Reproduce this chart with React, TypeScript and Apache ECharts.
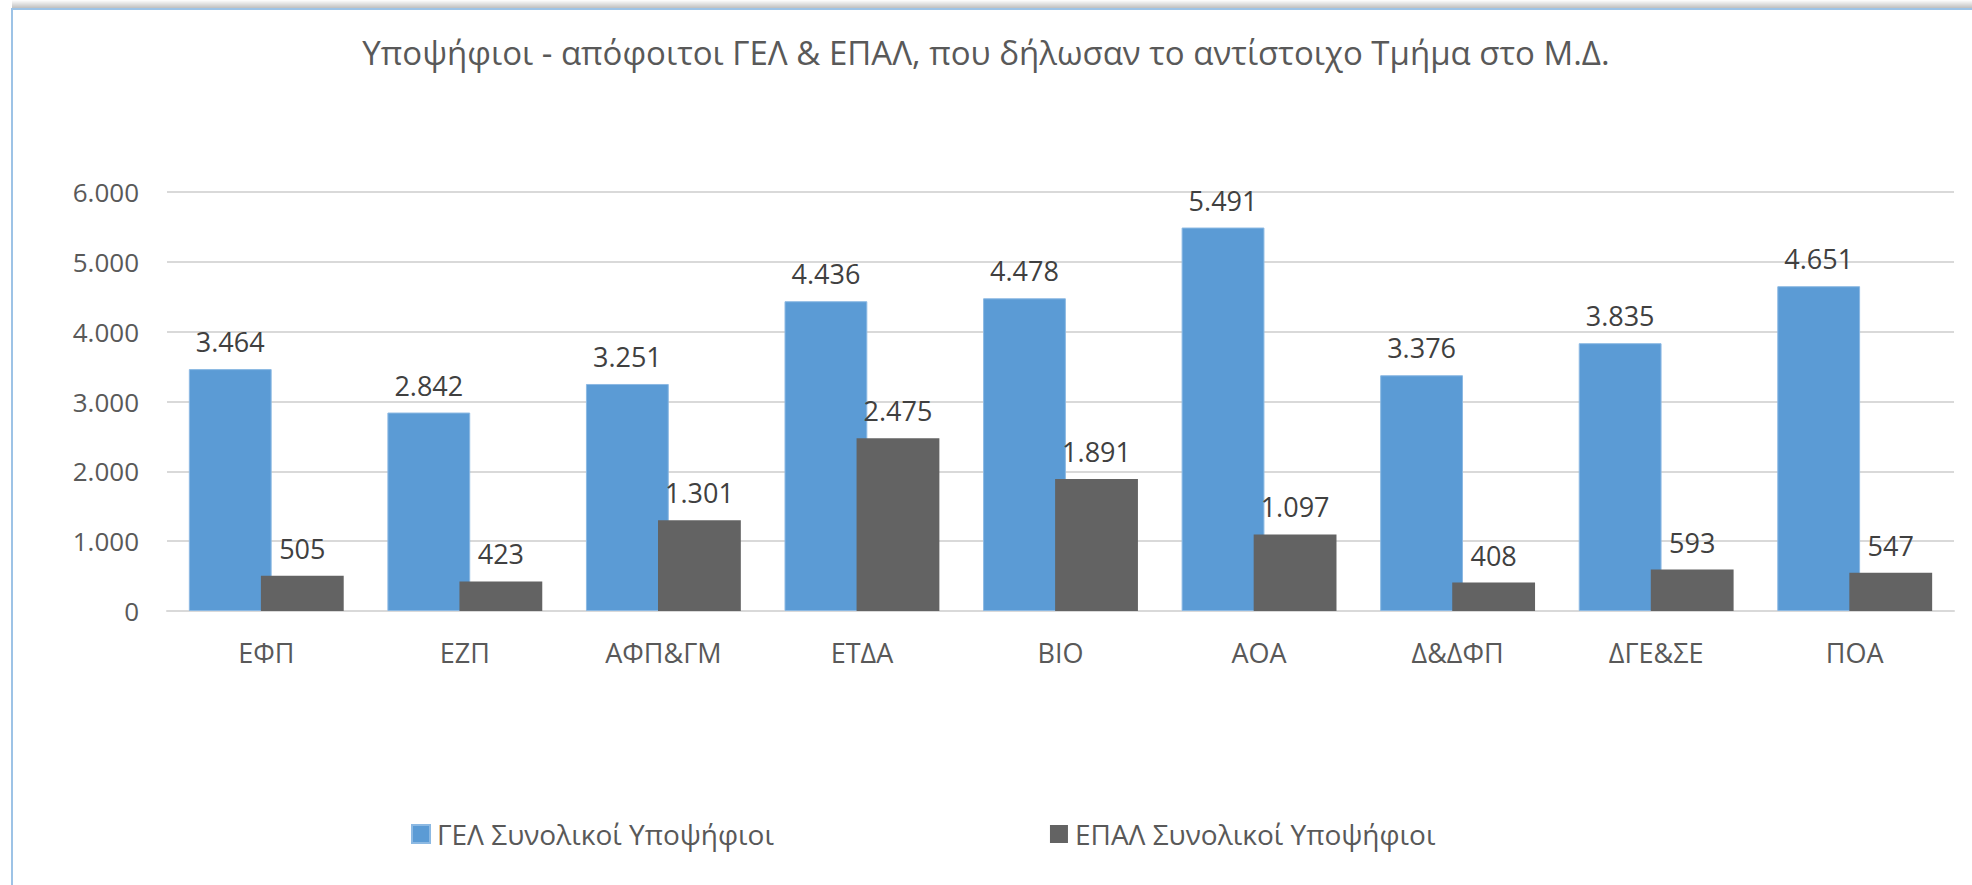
import React, { useEffect, useRef } from "react";
import * as echarts from "echarts";

const categories = ["ΕΦΠ", "ΕΖΠ", "ΑΦΠ&ΓΜ", "ΕΤΔΑ", "ΒΙΟ", "ΑΟΑ", "Δ&ΔΦΠ", "ΔΓΕ&ΣΕ", "ΠΟΑ"];
const gelValues = [3464, 2842, 3251, 4436, 4478, 5491, 3376, 3835, 4651];
const epalValues = [505, 423, 1301, 2475, 1891, 1097, 408, 593, 547];
const seriesNames = ["ΓΕΛ Συνολικοί Υποψήφιοι", "ΕΠΑΛ Συνολικοί Υποψήφιοι"];
const titleText = "Υποψήφιοι - απόφοιτοι ΓΕΛ & ΕΠΑΛ, που δήλωσαν το αντίστοιχο Τμήμα στο Μ.Δ.";

const fmt = (v: number) => String(Math.round(v)).replace(/\B(?=(\d{3})+(?!\d))/g, ".");

const FONT = "'Open Sans', 'Noto Sans', sans-serif";

export default function App() {
  const ref = useRef<HTMLDivElement>(null);
  useEffect(() => {
    if (!ref.current) return;
    const chart = echarts.init(ref.current, undefined, { renderer: "svg" });
    chart.setOption({
      animation: false,
      backgroundColor: "#ffffff",
      textStyle: { fontFamily: FONT },
      title: {
        text: titleText,
        left: "center",
        top: 31,
        textStyle: { fontFamily: FONT, fontSize: 33, fontWeight: "normal", color: "#595959" },
      },
      legend: {
        left: 406,
        top: 815,
        itemWidth: 18,
        itemHeight: 18,
        itemGap: 276,
        icon: "rect",
        textStyle: { fontFamily: FONT, fontSize: 28, color: "#595959", padding: [0, 0, 0, 2] },
        data: seriesNames,
      },
      graphic: [
        {
          type: "rect",
          shape: { x: 12, y: 0, width: 1960, height: 8 },
          style: {
            fill: new echarts.graphic.LinearGradient(0, 0, 0, 1, [
              { offset: 0, color: "#ffffff" },
              { offset: 1, color: "#bfbfbf" },
            ]),
          },
          silent: true,
        },
        {
          type: "line",
          shape: { x1: 11, y1: 9, x2: 1972, y2: 9 },
          style: { stroke: "#9DC3E6", lineWidth: 2 },
          silent: true,
        },
        {
          type: "line",
          shape: { x1: 12, y1: 8, x2: 12, y2: 885 },
          style: { stroke: "#9DC3E6", lineWidth: 2 },
          silent: true,
        },
      ],
      grid: { left: 167, right: 18, top: 192, bottom: 274, containLabel: false },
      xAxis: {
        type: "category",
        data: categories,
        axisLine: { show: true, lineStyle: { color: "#D9D9D9", width: 2 } },
        axisTick: { show: false },
        axisLabel: { fontFamily: FONT, fontSize: 27, color: "#595959", margin: 28 },
      },
      yAxis: {
        type: "value",
        min: 0,
        max: 6000,
        interval: 1000,
        axisLine: { show: false },
        axisTick: { show: false },
        splitLine: { lineStyle: { color: "#D9D9D9", width: 2 } },
        axisLabel: {
          fontFamily: FONT,
          fontSize: 26,
          color: "#595959",
          margin: 28,
          formatter: (v: number) => fmt(v),
        },
      },
      series: [
        {
          name: seriesNames[0],
          type: "bar",
          data: gelValues,
          barCategoryGap: "22%",
          barGap: "-13%",
          itemStyle: { color: "#5B9BD5", borderColor: "#8CB9E3", borderWidth: 1 },
          label: {
            show: true,
            position: "top",
            distance: 14,
            fontFamily: FONT,
            fontSize: 27,
            color: "#404040",
            formatter: (p: any) => fmt(p.value),
          },
        },
        {
          name: seriesNames[1],
          type: "bar",
          data: epalValues,
          barCategoryGap: "22%",
          barGap: "-13%",
          itemStyle: { color: "#636363" },
          label: {
            show: true,
            position: "top",
            distance: 14,
            fontFamily: FONT,
            fontSize: 27,
            color: "#404040",
            formatter: (p: any) => fmt(p.value),
          },
        },
      ],
    });
    return () => chart.dispose();
  }, []);
  return (
    <div
      ref={ref}
      style={{ position: "fixed", left: 0, top: 0, width: 1972, height: 885, background: "#fff" }}
    />
  );
}
